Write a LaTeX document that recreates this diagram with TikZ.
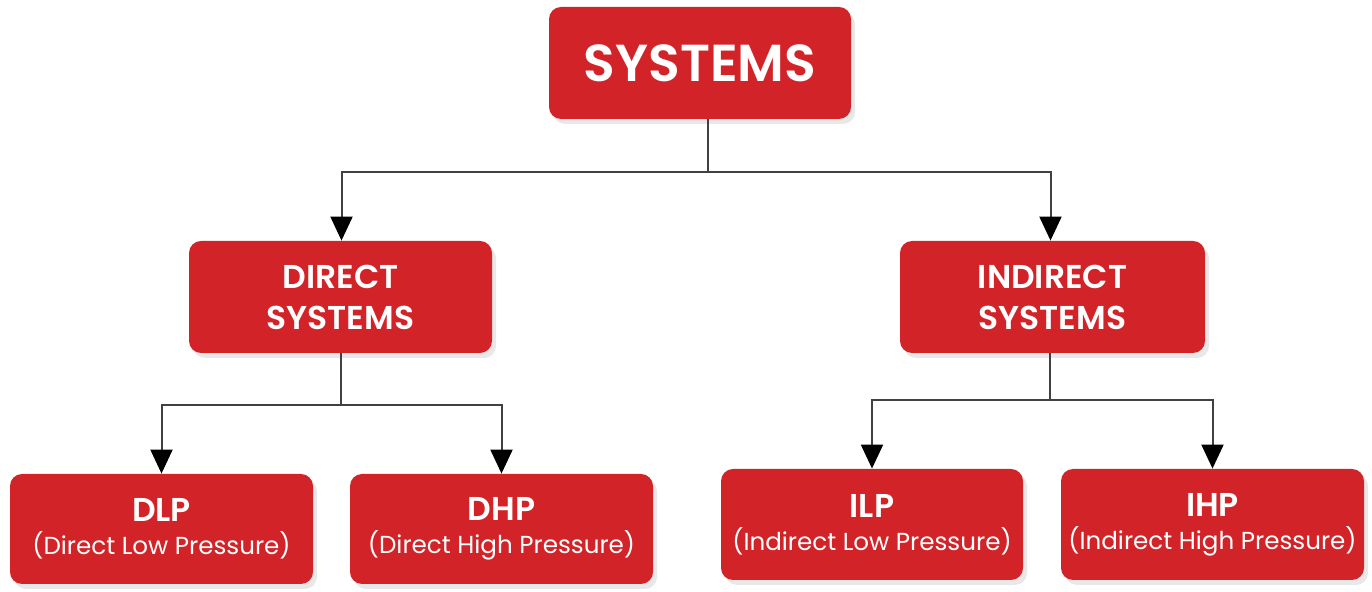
\documentclass[tikz,border=0pt]{standalone}
\usepackage{fontspec}
\setmainfont{Poppins}
\newfontfamily\popsemi{Poppins SemiBold}
\usetikzlibrary{arrows.meta,shadows}
\definecolor{boxred}{RGB}{210,36,40}
\definecolor{linegray}{RGB}{65,65,65}
\tikzset{
  redbox/.style={fill=boxred, rounded corners=6pt, text=white, align=center,
    inner sep=0pt, drop shadow={opacity=0.18, shadow xshift=2pt, shadow yshift=-2.5pt}},
  midtext/.style={font=\fontsize{16.5}{20.5}\selectfont\popsemi},
  conn/.style={draw=linegray, line width=1pt},
  arr/.style={conn, -{Triangle[width=11pt,length=12pt,fill=black,color=black]}},
}
\newcommand{\leaftext}[2]{{\fontsize{16.5}{20}\selectfont\popsemi #1}\\[4.5pt]{\fontsize{12.3}{14}\selectfont #2}}
\begin{document}
\begin{tikzpicture}[x=0.5pt,y=-0.5pt]
\useasboundingbox (0,0) rectangle (1372,592);
\node[redbox, minimum width=151pt, minimum height=56pt, font=\fontsize{26}{30}\selectfont\popsemi] (sys) at (700,63) {SYSTEMS};
\node[redbox, midtext, minimum width=151.5pt, minimum height=56pt] (dir) at (340.5,297) {DIRECT\\SYSTEMS};
\node[redbox, midtext, minimum width=152.5pt, minimum height=56pt] (ind) at (1052.5,297) {INDIRECT\\SYSTEMS};
\node[redbox, minimum width=151.5pt, minimum height=55pt] (dlp) at (161.5,529) {\leaftext{DLP}{(Direct Low Pressure)}};
\node[redbox, minimum width=151.5pt, minimum height=55pt] (dhp) at (501.5,529) {\leaftext{DHP}{(Direct High Pressure)}};
\node[redbox, minimum width=151pt, minimum height=55.5pt] (ilp) at (872,524.5) {\leaftext{ILP}{(Indirect Low Pressure)}};
\node[redbox, minimum width=151.5pt, minimum height=55.5pt] (ihp) at (1212.5,524.5) {\leaftext{IHP}{(Indirect High Pressure)}};
% connectors
\coordinate (j0) at (708,172);
\coordinate (j1) at (341,405);
\coordinate (j2) at (1050,400);
\draw[conn] (sys.south -| j0) -- (j0);
\draw[arr] (j0) -| ([xshift=0.5pt]dir.north);
\draw[arr] (j0) -| ([xshift=-1pt]ind.north);
\draw[conn] (dir.south -| j1) -- (j1);
\draw[arr] (j1) -| (dlp.north);
\draw[arr] (j1) -| (dhp.north);
\draw[conn] (ind.south -| j2) -- (j2);
\draw[arr] (j2) -| (ilp.north);
\draw[arr] (j2) -| (ihp.north);
\end{tikzpicture}
\end{document}
